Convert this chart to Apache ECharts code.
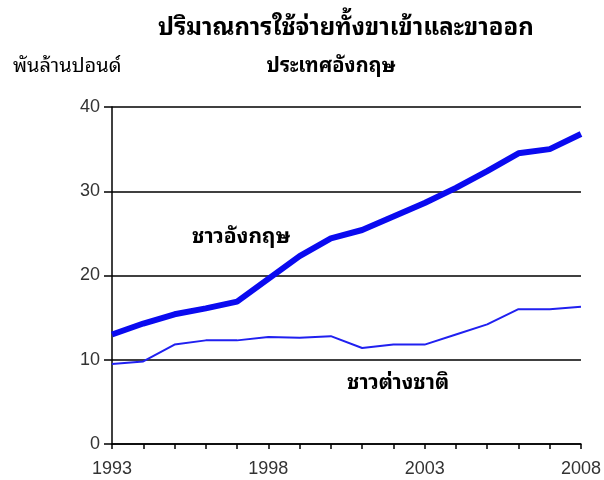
<!DOCTYPE html>
<html><head><meta charset="utf-8">
<script src="https://cdn.jsdelivr.net/npm/echarts@6/dist/echarts.min.js"></script>
<style>html,body{margin:0;padding:0;background:#fff}#c{width:604px;height:480px}</style>
</head><body><div id="c"></div>
<script>
const years = ['1993','1994','1995','1996','1997','1998','1999','2000','2001','2002','2003','2004','2005','2006','2007','2008'];
const ukResidents = [13.0,14.3,15.4,16.1,16.9,19.6,22.3,24.4,25.4,27.0,28.6,30.4,32.4,34.5,35.0,36.8];
const overseasResidents = [9.5,9.8,11.8,12.3,12.3,12.7,12.6,12.8,11.4,11.8,11.8,13.0,14.2,16.0,16.0,16.3];
const yTicks = [0,10,20,30,40];
const titleLine1 = 'ปริมาณการใช้จ่ายทั้งขาเข้าและขาออก';
const titleLine2 = 'ประเทศอังกฤษ';
const unitLabel = 'พันล้านปอนด์';
const ukLabel = 'ชาวอังกฤษ';
const overseasLabel = 'ชาวต่างชาติ';

const thaiFont = '"Noto Sans Thai Looped","Noto Sans Thai",sans-serif';
const numFont = '"Liberation Sans", Arial, sans-serif';
const chart = echarts.init(document.getElementById('c'));
chart.setOption({
  backgroundColor: '#fff',
  animation: false,
  grid: {left: 112, right: 22, top: 107, bottom: 36},
  xAxis: {
    type: 'category', data: years, boundaryGap: false,
    axisLine: {lineStyle: {color: '#000', width: 1.5}},
    axisTick: {show: true, length: 5, interval: 0, lineStyle: {color: '#000', width: 1.5}},
    axisLabel: {interval: 4, margin: 16, color: '#333', fontSize: 18, fontFamily: numFont},
    splitLine: {show: false}
  },
  yAxis: {
    type: 'value', min: yTicks[0], max: yTicks[yTicks.length-1], interval: 10,
    axisLine: {show: true, lineStyle: {color: '#000', width: 1.5}},
    axisTick: {show: true, length: 8, lineStyle: {color: '#000', width: 1.5}},
    axisLabel: {margin: 12, color: '#333', fontSize: 18, fontFamily: numFont},
    splitLine: {show: true, lineStyle: {color: '#000', width: 1.5}}
  },
  series: [
    {type: 'line', data: ukResidents, showSymbol: false, lineStyle: {color: '#0a0af0', width: 6}, z: 3},
    {type: 'line', data: overseasResidents, showSymbol: false, lineStyle: {color: '#2020f0', width: 2}, z: 3}
  ],
  graphic: [
    {type: 'text', x: 346, y: 28, style: {text: titleLine1, font: 'bold 24px ' + thaiFont, fill: '#000', align: 'center', verticalAlign: 'middle'}},
    {type: 'text', x: 331, y: 66, style: {text: titleLine2, font: 'bold 20px ' + thaiFont, fill: '#000', align: 'center', verticalAlign: 'middle'}},
    {type: 'text', x: 13, y: 66, style: {text: unitLabel, font: '20px ' + thaiFont, fill: '#000', verticalAlign: 'middle'}},
    {type: 'text', x: 192, y: 237, style: {text: ukLabel, font: 'bold 21px ' + thaiFont, fill: '#000', verticalAlign: 'middle'}},
    {type: 'text', x: 347, y: 383, style: {text: overseasLabel, font: 'bold 21px ' + thaiFont, fill: '#000', verticalAlign: 'middle'}}
  ]
});
</script></body></html>
